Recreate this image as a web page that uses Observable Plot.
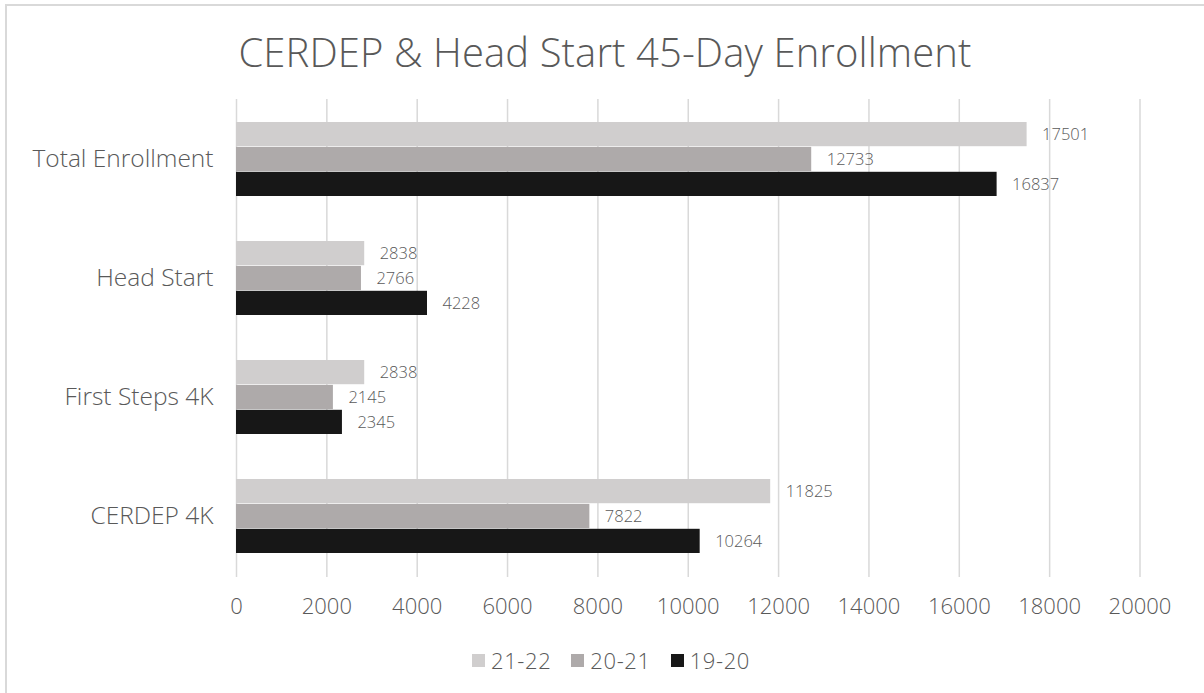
<!DOCTYPE html>
<html>
<head>
<meta charset="utf-8">
<script src="https://cdn.jsdelivr.net/npm/d3@7"></script>
<script src="https://cdn.jsdelivr.net/npm/@observablehq/plot@0.6"></script>
<style>
  html, body { margin: 0; padding: 0; background: #fff; }
  #wrap { position: relative; width: 1204px; height: 693px; overflow: hidden; font-family: "Open Sans", sans-serif; color: #595959; }
  #frame { position: absolute; left: 5px; top: 4px; width: 1300px; height: 800px; border-top: 2px solid #d9d9d9; border-left: 2px solid #d9d9d9; }
  #title { position: absolute; left: 0; width: 1210px; top: 24px; text-align: center; font-size: 40px; font-weight: 300; letter-spacing: 0.1px; }
  #chart { position: absolute; left: 0; top: 0; }
  #legend { position: absolute; left: 0; width: 1222px; top: 645px; display: flex; justify-content: center; align-items: center; font-size: 22px; font-weight: 300; letter-spacing: 0.6px; }
  .item { display: flex; align-items: center; margin: 0 10px; }
  .sw { width: 13px; height: 13px; margin-right: 6px; }
</style>
</head>
<body>
<div id="wrap">
  <div id="frame"></div>
  <div id="title"></div>
  <div id="chart"></div>
  <div id="legend"></div>
</div>
<script>
const titleText = "CERDEP & Head Start 45-Day Enrollment";
const categories = ["Total Enrollment", "Head Start", "First Steps 4K", "CERDEP 4K"];
const series = ["21-22", "20-21", "19-20"];
const values2122 = [17501, 2838, 2838, 11825];
const values2021 = [12733, 2766, 2145, 7822];
const values1920 = [16837, 4228, 2345, 10264];
const colors = ["#d0cece", "#aeaaaa", "#171717"];
const xTicks = [0, 2000, 4000, 6000, 8000, 10000, 12000, 14000, 16000, 18000, 20000];

const seriesValues = [values2122, values2021, values1920];
const rows = [];
series.forEach((s, i) => categories.forEach((c, j) => rows.push({category: c, series: s, value: seriesValues[i][j]})));

document.getElementById("title").textContent = titleText;

const W = 1204, H = 640, mt = 99, mb = 63, ml = 236, mr = 64.5;
const padInner = 0.375, padOuter = 0.1875;
const step = (H - mt - mb) / (categories.length - padInner + 2 * padOuter);
const bw = step * (1 - padInner);
const sub = bw / series.length;

const marks = [
  Plot.gridX(xTicks, {stroke: "#d9d9d9", strokeOpacity: 1, strokeWidth: 1.5})
];
series.forEach((s, i) => {
  const data = rows.filter(d => d.series === s);
  marks.push(Plot.barX(data, {
    x: "value", y: "category", fill: "series",
    insetTop: i * sub, insetBottom: (series.length - 1 - i) * sub
  }));
  marks.push(Plot.text(data, {
    x: "value", y: "category", text: d => String(d.value),
    dx: 15, dy: (i - (series.length - 1) / 2) * sub,
    textAnchor: "start", fill: "#595959", fontSize: 16.5, fontWeight: 300
  }));
});
marks.push(Plot.axisX(xTicks, {tickSize: 0, tickPadding: 21, fontSize: 22, fontWeight: 300, fill: "#595959", tickFormat: d => String(d), style: "letter-spacing:1.4px"}));
marks.push(Plot.axisY({tickSize: 0, tickPadding: 23, fontSize: 24.5, fontWeight: 300, fill: "#595959", style: "letter-spacing:2.3px"}));

const plot = Plot.plot({
  width: W, height: H,
  marginTop: mt, marginBottom: mb, marginLeft: ml, marginRight: mr,
  style: {fontFamily: "Open Sans, sans-serif", background: "transparent", color: "#595959"},
  x: {domain: [0, 20000], label: null},
  y: {domain: categories, paddingInner: padInner, paddingOuter: padOuter, label: null},
  color: {domain: series, range: colors},
  marks
});
document.getElementById("chart").appendChild(plot);

const legend = document.getElementById("legend");
series.forEach((s, i) => {
  const it = document.createElement("div");
  it.className = "item";
  const sw = document.createElement("div");
  sw.className = "sw";
  sw.style.background = plot.scale("color").apply(s);
  const lab = document.createElement("span");
  lab.textContent = s;
  it.appendChild(sw); it.appendChild(lab);
  legend.appendChild(it);
});
</script>
</body>
</html>
